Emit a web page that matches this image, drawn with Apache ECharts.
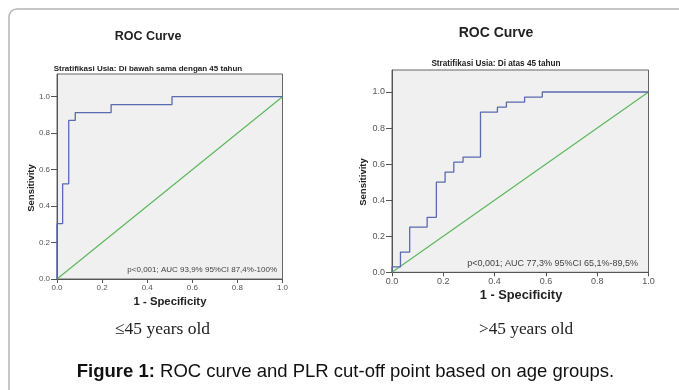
<!DOCTYPE html>
<html>
<head>
<meta charset="utf-8">
<script src="https://cdn.jsdelivr.net/npm/echarts@6/dist/echarts.min.js"></script>
<style>
html,body{margin:0;padding:0;background:#fff;}
#c{width:679px;height:390px;}
</style>
</head>
<body>
<div id="c"></div>
<script>
// Data
var axisTicks = [0, 0.2, 0.4, 0.6, 0.8, 1.0];
// Left panel: age <= 45
var leftFPR = [0, 0, 0.025, 0.025, 0.052, 0.052, 0.081, 0.081, 0.24, 0.24, 0.51, 0.51, 1.0];
var leftTPR = [0, 0.304, 0.304, 0.522, 0.522, 0.870, 0.870, 0.913, 0.913, 0.957, 0.957, 1.0, 1.0];
// Right panel: age > 45
var rightFPR = [0, 0, 0.033, 0.033, 0.069, 0.069, 0.137, 0.137, 0.173, 0.173, 0.207, 0.207, 0.241, 0.241, 0.277, 0.277, 0.345, 0.345, 0.411, 0.411, 0.446, 0.446, 0.517, 0.517, 0.586, 0.586, 1.0];
var rightTPR = [0, 0.03, 0.03, 0.112, 0.112, 0.251, 0.251, 0.305, 0.305, 0.5, 0.5, 0.556, 0.556, 0.611, 0.611, 0.639, 0.639, 0.888, 0.888, 0.916, 0.916, 0.944, 0.944, 0.972, 0.972, 1.0, 1.0];
var refX = [0, 1];
var refY = [0, 1];
var titles = ['ROC Curve', 'ROC Curve'];
var subtitles = ['Stratifikasi Usia: Di bawah sama dengan 45 tahun', 'Stratifikasi Usia: Di atas 45 tahun'];
var notes = ['p<0,001; AUC 93,9% 95%CI 87,4%-100%', 'p<0,001; AUC 77,3% 95%CI 65,1%-89,5%'];
var groupLabels = ['\u226445 years old', '>45 years old'];
var figCaptionBold = 'Figure 1:';
var figCaptionRest = ' ROC curve and PLR cut-off point based on age groups.';

function zip(a, b) { return a.map(function (v, i) { return [v, b[i]]; }); }

var chart = echarts.init(document.getElementById('c'), null, {renderer: 'canvas'});

var blue = '#5a6aae';
var green = '#5cb85c';
var axisCol = '#555';
var sans = 'Arial, "Liberation Sans", sans-serif';

function xAxisCfg(idx, fs) {
  return {
    type: 'value', gridIndex: idx, min: 0, max: 1, interval: 0.2,
    axisLine: {show: true, onZero: false, lineStyle: {color: axisCol, width: 1}},
    axisTick: {show: true, length: 4, lineStyle: {color: axisCol}},
    axisLabel: {color: '#555', fontSize: fs, fontFamily: sans, margin: 5,
      formatter: function (v) { return v.toFixed(1); }},
    splitLine: {show: false}
  };
}
function yAxisCfg(idx, max, fs) {
  return {
    type: 'value', gridIndex: idx, min: 0, max: max,
    axisLine: {show: true, onZero: false, lineStyle: {color: axisCol, width: 1}},
    axisTick: {show: true, length: 6, customValues: axisTicks, lineStyle: {color: axisCol}},
    axisLabel: {color: '#555', fontSize: fs, fontFamily: sans, margin: 7, customValues: axisTicks,
      formatter: function (v) { return v.toFixed(1); }},
    splitLine: {show: false}
  };
}

var option = {
  animation: false,
  grid: [
    {left: 57, top: 74, width: 225.5, height: 205, show: true, backgroundColor: '#f0f0f0', borderColor: '#666', borderWidth: 1},
    {left: 392, top: 70, width: 256.5, height: 202.3, show: true, backgroundColor: '#f0f0f0', borderColor: '#666', borderWidth: 1}
  ],
  xAxis: [xAxisCfg(0, 8), xAxisCfg(1, 9)],
  yAxis: [yAxisCfg(0, 1.1245, 8), yAxisCfg(1, 1.122, 9)],
  series: [
    {type: 'line', xAxisIndex: 0, yAxisIndex: 0, data: zip(refX, refY), showSymbol: false, lineStyle: {color: green, width: 1.2}},
    {type: 'line', xAxisIndex: 0, yAxisIndex: 0, data: zip(leftFPR, leftTPR), showSymbol: false, lineStyle: {color: blue, width: 1.3}},
    {type: 'line', xAxisIndex: 1, yAxisIndex: 1, data: zip(refX, refY), showSymbol: false, lineStyle: {color: green, width: 1.2}},
    {type: 'line', xAxisIndex: 1, yAxisIndex: 1, data: zip(rightFPR, rightTPR), showSymbol: false, lineStyle: {color: blue, width: 1.3}}
  ],
  graphic: [
    {type: 'rect', shape: {x: 9, y: 9, width: 720, height: 420, r: 8}, style: {fill: 'none', stroke: '#b4b4b4', lineWidth: 1.5}, silent: true},
    {type: 'text', x: 148, y: 37, style: {text: titles[0], font: 'bold 12.5px ' + sans, fill: '#222', align: 'center', verticalAlign: 'middle'}},
    {type: 'text', x: 496, y: 33, style: {text: titles[1], font: 'bold 14px ' + sans, fill: '#222', align: 'center', verticalAlign: 'middle'}},
    {type: 'text', x: 148, y: 69, style: {text: subtitles[0], font: 'bold 8px ' + sans, fill: '#222', align: 'center', verticalAlign: 'middle'}},
    {type: 'text', x: 496, y: 64, style: {text: subtitles[1], font: 'bold 8.2px ' + sans, fill: '#222', align: 'center', verticalAlign: 'middle'}},
    {type: 'text', x: 31, y: 188, rotation: Math.PI / 2, style: {text: 'Sensitivity', font: 'bold 9.5px ' + sans, fill: '#222', align: 'center', verticalAlign: 'middle'}},
    {type: 'text', x: 363, y: 182, rotation: Math.PI / 2, style: {text: 'Sensitivity', font: 'bold 9.5px ' + sans, fill: '#222', align: 'center', verticalAlign: 'middle'}},
    {type: 'text', x: 170, y: 302, style: {text: '1 - Specificity', font: 'bold 11.3px ' + sans, fill: '#222', align: 'center', verticalAlign: 'middle'}},
    {type: 'text', x: 521, y: 295, style: {text: '1 - Specificity', font: 'bold 12.8px ' + sans, fill: '#222', align: 'center', verticalAlign: 'middle'}},
    {type: 'text', x: 277, y: 270, style: {text: notes[0], font: '8px ' + sans, fill: '#444', align: 'right', verticalAlign: 'middle'}},
    {type: 'text', x: 638, y: 264, style: {text: notes[1], font: '9px ' + sans, fill: '#444', align: 'right', verticalAlign: 'middle'}},
    {type: 'text', x: 162.5, y: 329, style: {text: groupLabels[0], font: '17.5px "Liberation Serif", "Times New Roman", serif', fill: '#222', align: 'center', verticalAlign: 'middle'}},
    {type: 'text', x: 526, y: 329, style: {text: groupLabels[1], font: '17.3px "Liberation Serif", "Times New Roman", serif', fill: '#222', align: 'center', verticalAlign: 'middle'}},
    {type: 'text', x: 345.5, y: 372, style: {
      text: '{b|' + figCaptionBold + '}{r|' + figCaptionRest + '}',
      align: 'center', verticalAlign: 'middle',
      rich: {
        b: {font: 'bold 18.5px ' + sans, fill: '#111'},
        r: {font: '18.5px ' + sans, fill: '#111'}
      }
    }}
  ]
};
chart.setOption(option);
</script>
</body>
</html>
